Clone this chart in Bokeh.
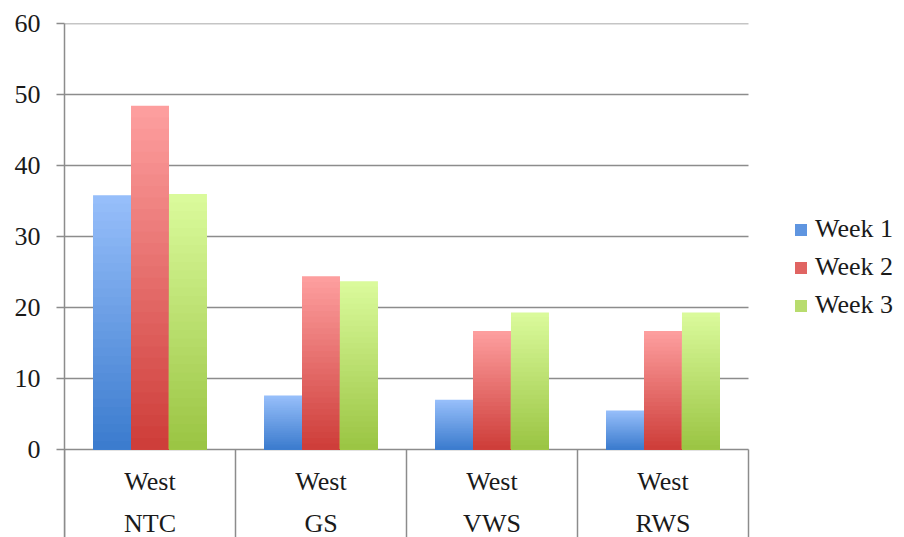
from bokeh.plotting import figure
from bokeh.models import Range1d, FixedTicker, Legend, LegendItem, ColumnDataSource
from bokeh.embed import file_html
from bokeh.resources import INLINE
from bokeh.core.properties import value

# ---- data ----
regions = ["West", "West", "West", "West"]
sites = ["NTC", "GS", "VWS", "RWS"]
series = ["Week 1", "Week 2", "Week 3"]
week1 = [35.8, 7.6, 7.0, 5.5]
week2 = [48.4, 24.4, 16.7, 16.7]
week3 = [36.0, 23.7, 19.3, 19.3]
y_ticks = [0, 10, 20, 30, 40, 50, 60]

# ---- style ----
top_colors = [(150, 190, 250), (253, 158, 158), (218, 250, 155)]
bot_colors = [(60, 124, 206), (206, 62, 58), (155, 197, 68)]
mid_colors = ["#5f95e0", "#e06462", "#b8dc6e"]
FONT = "Liberation Serif"
FS = "26px"
GRID = "#8c8c8c"

n = len(sites)
bar_w = 0.222
offsets = [-bar_w, 0.0, bar_w]
x_end = 840 / 171.0  # extra room on the right for the legend

p = figure(width=904, height=537, output_backend="svg", toolbar_location=None,
           x_range=Range1d(0, x_end), y_range=Range1d(-12.4, 60),
           min_border_left=64, min_border_right=0, min_border_top=23,
           min_border_bottom=0)
p.outline_line_color = None
p.background_fill_color = "white"
p.border_fill_color = "white"
p.xaxis.visible = False
p.xgrid.visible = False
p.ygrid.visible = False

ya = p.yaxis[0]
ya.ticker = FixedTicker(ticks=y_ticks)
ya.major_label_text_font = FONT
ya.major_label_text_font_size = FS
ya.major_label_text_color = "#1a1a1a"
ya.major_tick_out = 8
ya.major_tick_in = 0
ya.minor_tick_out = 0
ya.minor_tick_in = 0
ya.major_tick_line_color = GRID
ya.axis_line_color = GRID
ya.axis_line_width = 1.5
ya.major_tick_line_width = 1.5
ya.major_label_standoff = 16

# horizontal grid lines across the category area only
p.segment(x0=[0] * len(y_ticks), x1=[n] * len(y_ticks), y0=y_ticks, y1=y_ticks,
          line_color=GRID, line_width=1.5, level="underlay")


def mix(a, b, t):
    return "#%02x%02x%02x" % tuple(int(round(a[i] + (b[i] - a[i]) * t)) for i in range(3))


K = 30
all_vals = [week1, week2, week3]
legend_items = []
for s, vals in enumerate(all_vals):
    xs = [i + 0.5 + offsets[s] for i in range(n)]
    for j in range(K):
        frac = 1 - j / K
        col = mix(top_colors[s], bot_colors[s], j / (K - 1))
        src = ColumnDataSource(dict(x=xs, top=[v * frac for v in vals]))
        p.vbar(x="x", top="top", bottom=0, width=bar_w, source=src,
               fill_color=col, line_color=None)
    # legend swatch renderer (point placed outside the visible range)
    dummy = p.vbar(x=[-10], top=[0], width=bar_w, fill_color=mid_colors[s], line_color=None)
    legend_items.append(LegendItem(label=series[s], renderers=[dummy]))

# category separators
sep_x = list(range(n + 1))
p.segment(x0=sep_x, y0=[0] * (n + 1), x1=sep_x, y1=[-12.4] * (n + 1),
          line_color=GRID, line_width=1.5)

# two-level category labels
cx = [i + 0.5 for i in range(n)]
p.text(x=cx, y=[-4.5] * n, text=regions, text_font=value(FONT),
       text_font_size=FS, text_align="center", text_baseline="middle",
       text_color="#1a1a1a")
p.text(x=cx, y=[-10.4] * n, text=sites, text_font=value(FONT),
       text_font_size=FS, text_align="center", text_baseline="middle",
       text_color="#1a1a1a")

legend = Legend(items=legend_items, location=(729, 217),
                label_text_font=FONT, label_text_font_size=FS,
                label_text_color="#1a1a1a", glyph_width=15, glyph_height=15,
                spacing=8, border_line_color=None, background_fill_alpha=0,
                margin=0, padding=0, label_standoff=7)
p.add_layout(legend)

open("out.html", "w").write(file_html(p, INLINE))
